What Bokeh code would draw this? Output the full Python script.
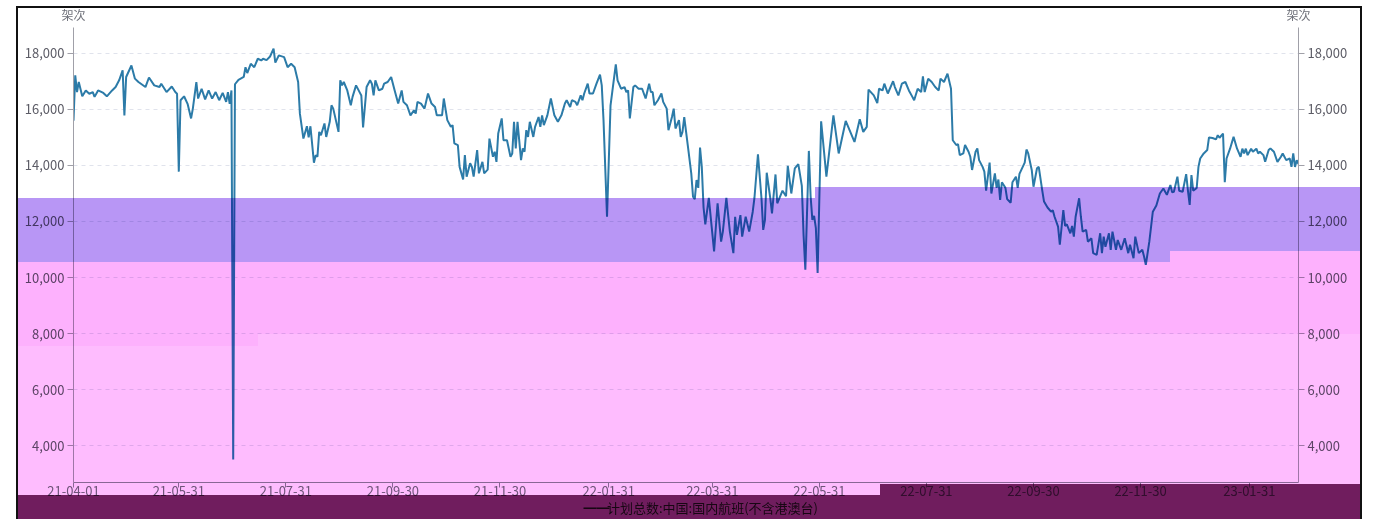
import pandas as pd
from bokeh.plotting import figure
from bokeh.models import (Range1d, LinearAxis, FixedTicker, NumeralTickFormatter,
                          DatetimeTickFormatter, ColumnDataSource, InlineStyleSheet)
from bokeh.embed import file_html
from bokeh.resources import INLINE

# ---------------- data ----------------
series_name = "计划总数:中国:国内航班(不含港澳台)"
axis_unit = "架次"
start_date = "2021-04-01"
end_offset = 698

day_offsets = [
    0, 1, 2, 3, 5, 7, 9, 11, 12, 14,
    17, 19, 22, 24, 26, 28, 29, 30, 33, 35,
    37, 41, 43, 46, 49, 50, 53, 56, 58, 59,
    60, 61, 63, 65, 67, 68, 70, 71, 73, 75,
    77, 79, 81, 83, 85, 87, 88, 89, 90, 91,
    92, 94, 97, 98, 99, 101, 103, 105, 107, 108,
    110, 112, 114, 115, 117, 120, 122, 124, 126, 128,
    129, 131, 133, 134, 135, 137, 138, 139, 140, 141,
    143, 144, 146, 147, 148, 151, 152, 153, 154, 156,
    158, 159, 161, 163, 164, 165, 167, 169, 170, 171,
    172, 174, 176, 177, 179, 181, 183, 185, 187, 188,
    190, 192, 194, 195, 196, 198, 200, 202, 204, 206,
    207, 210, 211, 213, 215, 216, 217, 219, 220, 222,
    223, 224, 226, 227, 228, 230, 231, 233, 234, 236,
    237, 239, 240, 241, 242, 244, 245, 247, 249, 250,
    251, 252, 253, 255, 256, 257, 258, 259, 260, 262,
    263, 265, 266, 267, 268, 270, 272, 274, 276, 278,
    280, 281, 283, 284, 286, 287, 289, 290, 291, 293,
    294, 296, 298, 300, 301, 302, 304, 306, 309, 310,
    312, 314, 315, 316, 317, 319, 320, 322, 324, 326,
    328, 329, 330, 331, 333, 335, 336, 338, 339, 341,
    342, 343, 345, 346, 347, 348, 350, 352, 353, 354,
    355, 356, 357, 358, 359, 360, 362, 365, 367, 369,
    370, 372, 374, 376, 377, 378, 380, 381, 383, 385,
    387, 388, 390, 392, 393, 394, 395, 397, 398, 400,
    401, 404, 406, 407, 409, 410, 411, 413, 415, 416,
    417, 419, 420, 421, 422, 423, 424, 426, 429, 433,
    436, 440, 445, 448, 450, 452, 453, 456, 458, 459,
    461, 462, 464, 467, 468, 470, 472, 474, 476, 478,
    479, 481, 483, 484, 485, 487, 489, 491, 493, 494,
    496, 498, 500, 501, 503, 504, 505, 507, 508, 510,
    511, 512, 514, 515, 516, 518, 519, 520, 522, 523,
    525, 526, 527, 528, 529, 530, 531, 532, 534, 535,
    537, 538, 539, 542, 543, 544, 546, 547, 549, 550,
    552, 553, 555, 557, 558, 559, 561, 562, 564, 565,
    566, 568, 569, 570, 571, 573, 574, 575, 577, 578,
    580, 581, 583, 585, 586, 587, 588, 590, 591, 592,
    594, 595, 597, 599, 601, 602, 604, 605, 607, 609,
    610, 611, 613, 615, 617, 619, 621, 623, 625, 626,
    627, 629, 630, 632, 634, 635, 636, 637, 638, 640,
    641, 642, 644, 646, 647, 649, 651, 652, 653, 655,
    656, 657, 659, 661, 663, 665, 666, 667, 668, 669,
    671, 672, 674, 675, 676, 678, 679, 681, 682, 684,
    686, 688, 689, 691, 693, 694, 695, 696, 697, 698,
]

flights = [
    15600, 17220, 16620, 16980, 16470, 16680, 16560, 16620, 16450, 16680,
    16590, 16470, 16680, 16800, 17040, 17400, 15790, 17160, 17570, 17100,
    16980, 16800, 17140, 16860, 16800, 16920, 16620, 16820, 16620, 16560,
    13780, 16330, 16470, 16200, 15680, 16030, 16980, 16390, 16740, 16360,
    16680, 16390, 16620, 16330, 16590, 16270, 16620, 16200, 16680, 3500,
    16900, 17060, 17160, 17510, 17300, 17630, 17510, 17810, 17750, 17810,
    17760, 17890, 18170, 17670, 17930, 17870, 17510, 17630, 17510, 16980,
    15850, 14960, 15400, 15000, 15400, 14100, 14370, 14310, 15200, 15080,
    15500, 15020, 15560, 16150, 16030, 15200, 17040, 16860, 16980, 16680,
    16150, 16450, 16860, 16620, 16500, 15360, 16800, 17040, 16920, 16500,
    17040, 16680, 16740, 16920, 16980, 17160, 16680, 16210, 16680, 16270,
    16150, 15790, 15970, 15850, 16270, 16210, 16030, 16570, 16210, 16090,
    15790, 15790, 16390, 15620, 15380, 15440, 14790, 14730, 13950, 13500,
    14370, 13600, 14080, 13950, 13600, 14550, 13720, 14130, 13720, 13850,
    14960, 14310, 14490, 14130, 15140, 15680, 14900, 14900, 14310, 14430,
    15560, 14610, 15560, 14190, 14610, 14490, 15260, 15020, 15560, 15020,
    15380, 15730, 15380, 15790, 15440, 15790, 16390, 15790, 15560, 15790,
    16210, 16330, 16090, 16330, 16270, 16150, 16500, 16330, 16570, 16920,
    16570, 16570, 16920, 17240, 16860, 15620, 12170, 16150, 17610, 17040,
    16740, 16800, 16620, 16680, 15680, 16800, 16860, 16740, 16740, 16390,
    16920, 16620, 16620, 16150, 16330, 16570, 16270, 16030, 15260, 15730,
    16030, 15320, 15620, 15020, 15200, 15730, 14730, 13720, 12890, 12800,
    13480, 13200, 14640, 13950, 12500, 11900, 12840, 10930, 12650, 11280,
    11640, 12840, 11640, 10870, 12170, 11520, 12230, 11460, 12170, 11640,
    12340, 12840, 14400, 12840, 11700, 12060, 13740, 12840, 12290, 13680,
    12650, 13100, 12900, 13990, 13000, 13450, 13900, 14050, 13270, 11500,
    10280, 14520, 12900, 12060, 12200, 11760, 10160, 15580, 13600, 15790,
    14430, 15590, 14840, 15650, 15200, 15380, 16710, 16500, 16230, 16740,
    16680, 16920, 16570, 17010, 16800, 16500, 16920, 16980, 16680, 16450,
    16330, 16740, 16620, 17180, 16620, 17100, 16980, 16800, 16680, 17100,
    16980, 17280, 16740, 14900, 14730, 14760, 14370, 14430, 14730, 14490,
    14310, 13840, 14490, 14610, 14190, 13950, 13780, 13100, 14100, 13000,
    13720, 13200, 13500, 12770, 13400, 13300, 13200, 12800, 12670, 13400,
    13600, 13200, 13700, 14100, 14570, 14430, 13840, 13240, 13900, 13950,
    13100, 12710, 12500, 12350, 12400, 12170, 11820, 11170, 12410, 11840,
    11900, 11580, 11840, 11460, 12170, 12830, 12170, 11640, 11700, 11280,
    11400, 10870, 10810, 11580, 10870, 11460, 11100, 11580, 10990, 11640,
    10990, 11340, 10990, 11400, 10870, 11170, 10690, 11460, 10870, 10990,
    10750, 10450, 11280, 12350, 12570, 13000, 13180, 12950, 13300, 13040,
    13060, 13600, 13100, 13060, 13690, 13100, 12590, 13660, 13100, 13200,
    13950, 14250, 14430, 14550, 15000, 14980, 14930, 15080, 14990, 15140,
    13400, 14250, 14600, 15020, 14600, 14310, 14600, 14430, 14600, 14370,
    14600, 14490, 14600, 14430, 14490, 14370, 14130, 14550, 14610, 14490,
    14130, 14310, 14430, 14190, 14250, 13950, 14430, 13950, 14190, 14050,
]

x_tick_dates = ["2021-04-01", "2021-05-31", "2021-07-31", "2021-09-30",
                "2021-11-30", "2022-01-31", "2022-03-31", "2022-05-31",
                "2022-07-31", "2022-09-30", "2022-11-30", "2023-01-31"]
y_ticks = [4000, 6000, 8000, 10000, 12000, 14000, 16000, 18000]
y_min, y_max = 2682, 18926

assert len(day_offsets) == len(flights)

# ---------------- figure ----------------
FONT = "Noto Sans CJK SC"
start = pd.Timestamp(start_date)
dates = start + pd.to_timedelta(day_offsets, unit="D")
src = ColumnDataSource(dict(date=dates, value=flights))

def ms(ts):
    return pd.Timestamp(ts).value // 10**6

x0 = ms(start)
x1 = ms(start + pd.Timedelta(days=end_offset))

W, H = 1373, 519
FRAME_L, FRAME_R, FRAME_T, FRAME_B = 73, 1298, 27, 483

# page background: coloured bands and frame border (x, y, w, h, colour)
rects = [
    (16, 6, 2, 513, "#111111"),
    (1360, 6, 2, 513, "#111111"),
    (16, 6, 1346, 2, "#111111"),
    (18, 198, 797, 64, "#b896f5"),
    (815, 187, 355, 75, "#b896f5"),
    (1170, 187, 190, 64, "#b896f5"),
    (18, 262, 1342, 72, "#fdb1fd"),
    (1170, 251, 190, 11, "#fdb1fd"),
    (18, 334, 240, 12, "#fdb1fd"),
    (258, 334, 622, 161, "#febcfe"),
    (18, 346, 240, 149, "#febcfe"),
    (880, 334, 480, 150, "#febcfe"),
    (18, 495, 862, 24, "#701d5e"),
    (880, 484, 480, 35, "#701d5e"),
]
bg_styles = {
    "background-color": "white",
    "background-image": ", ".join(f"linear-gradient({c}, {c})" for *_, c in rects),
    "background-size": ", ".join(f"{w}px {h}px" for _, _, w, h, _ in rects),
    "background-position": ", ".join(f"{x}px {y}px" for x, y, _, _, _ in rects),
    "background-repeat": "no-repeat",
}
# the drawing is tinted by the bands below it (multiply)
blend_css = InlineStyleSheet(css=".bk-Canvas { mix-blend-mode: multiply; }")

p = figure(width=W, height=H, x_axis_type="datetime",
           x_range=Range1d(x0, x1), y_range=Range1d(y_min, y_max),
           output_backend="svg", toolbar_location=None,
           min_border_left=FRAME_L, min_border_right=W - FRAME_R,
           min_border_top=FRAME_T, min_border_bottom=H - FRAME_B,
           outline_line_color=None,
           background_fill_color=None, border_fill_color=None)
p.styles = bg_styles
p.stylesheets = [blend_css]

xa = p.below[0]
ya = p.left[0]

yt = FixedTicker(ticks=y_ticks)
p.xgrid.visible = False
p.ygrid.ticker = yt
p.ygrid.grid_line_color = "#e0e3ec"
p.ygrid.grid_line_dash = "4 4"
p.ygrid.grid_line_width = 1

def style_y(ax):
    ax.ticker = yt
    ax.formatter = NumeralTickFormatter(format="0,0")
    ax.axis_line_color = "#a0a0a8"
    ax.major_tick_line_color = "#a0a0a8"
    ax.major_tick_out = 6
    ax.major_tick_in = 0
    ax.minor_tick_out = 0
    ax.minor_tick_in = 0
    ax.major_label_standoff = 3
    ax.major_label_text_font = FONT
    ax.major_label_text_font_size = "13px"
    ax.major_label_text_color = "#5c5c66"

style_y(ya)
right_axis = LinearAxis()
style_y(right_axis)
p.add_layout(right_axis, "right")

xa.ticker = FixedTicker(ticks=[ms(d) for d in x_tick_dates])
fmt = "%y-%m-%d"
xa.formatter = DatetimeTickFormatter(microseconds=fmt, milliseconds=fmt, seconds=fmt,
                                     minsec=fmt, minutes=fmt, hourmin=fmt, hours=fmt,
                                     days=fmt, months=fmt, years=fmt)
xa.axis_line_color = "#8a8a96"
xa.major_tick_line_color = "#8a8a96"
xa.major_tick_out = 5
xa.major_tick_in = 0
xa.minor_tick_out = 0
xa.minor_tick_in = 0
xa.major_label_standoff = -2
xa.major_label_text_font = FONT
xa.major_label_text_font_size = "13px"
xa.major_label_text_color = "#6e7079"

# axis unit names above both y axes
p.extra_x_ranges = {"unit": Range1d(0, 1),
                    "px": Range1d(FRAME_L, FRAME_R)}
unit_axis = LinearAxis(x_range_name="unit", ticker=FixedTicker(ticks=[0, 1]),
                       major_label_overrides={0: axis_unit, 1: axis_unit},
                       axis_line_color=None, major_tick_line_color=None,
                       minor_tick_line_color=None, major_label_standoff=5,
                       major_tick_out=0, major_tick_in=0,
                       major_label_text_font=FONT, major_label_text_font_size="12px",
                       major_label_text_color="#6e7079")
p.add_layout(unit_axis, "above")

p.line(x="date", y="value", source=src, line_color="#2c7ba8", line_width=2)

# legend row (swatch + series name) drawn as a label-only axis under the x axis
legend_axis = LinearAxis(x_range_name="px", ticker=FixedTicker(ticks=[596, 712]),
                         major_label_overrides={596: "━━", 712: series_name},
                         axis_line_color=None, major_tick_line_color=None,
                         minor_tick_line_color=None, major_label_standoff=-1,
                         major_tick_out=0, major_tick_in=0,
                         major_label_text_font=FONT, major_label_text_font_size="13px",
                         major_label_text_color="#333333")
p.add_layout(legend_axis, "below")

open("out.html", "w").write(file_html(p, INLINE))
